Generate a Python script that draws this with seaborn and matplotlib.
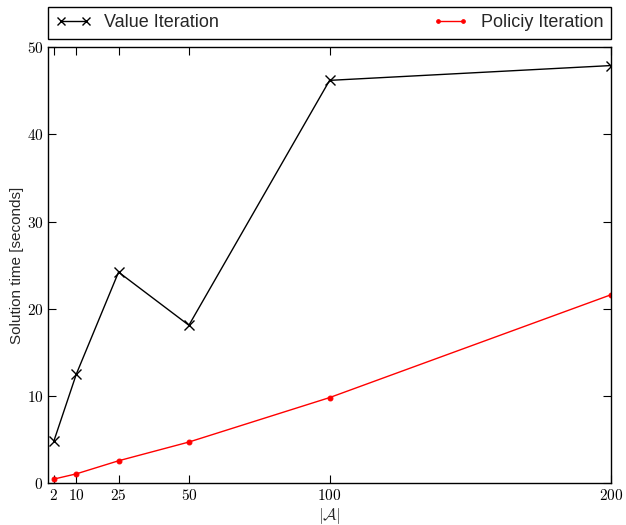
import numpy as np
import pandas as pd
import matplotlib
matplotlib.use("Agg")
import matplotlib.pyplot as plt
import seaborn as sns
from matplotlib.ticker import FuncFormatter

actions = [2, 10, 25, 50, 100, 200]
value_iteration = [4.8, 12.5, 24.2, 18.1, 46.2, 47.9]
policy_iteration = [0.45, 1.05, 2.55, 4.7, 9.8, 21.6]
y_ticks = [0, 10, 20, 30, 40, 50]

sns.set_theme(style="ticks")
plt.rcParams["font.family"] = ["Liberation Sans", "DejaVu Sans"]
plt.rcParams["mathtext.fontset"] = "cm"

fig = plt.figure(figsize=(6.26, 5.25), dpi=100)
ax = fig.add_axes([0.077, 0.08, 0.899, 0.83])

df_vi = pd.DataFrame({"x": actions, "y": value_iteration})
df_pi = pd.DataFrame({"x": actions, "y": policy_iteration})
sns.lineplot(data=df_vi, x="x", y="y", ax=ax, color="black", marker="x",
             markersize=7, markeredgewidth=1.0, markeredgecolor="black",
             linewidth=1.0, label="Value Iteration")
sns.lineplot(data=df_pi, x="x", y="y", ax=ax, color="red", marker="o",
             markersize=3.5, markeredgecolor="red", linewidth=1.0,
             label="Policiy Iteration")

ax.set_xlim(0, 200)
ax.set_ylim(0, 50)
ax.set_xticks(actions)
ax.set_yticks(y_ticks)
fmt = FuncFormatter(lambda v, p: r"$%d$" % v)
ax.xaxis.set_major_formatter(fmt)
ax.yaxis.set_major_formatter(fmt)
ax.tick_params(direction="in", top=True, right=True, length=6, width=0.8,
               labelsize=11, colors="black")
for s in ax.spines.values():
    s.set_visible(True)
    s.set_linewidth(1.0)
    s.set_color("black")
ax.set_xlabel(r"$|\mathcal{A}|$", fontsize=12, labelpad=2)
ax.set_ylabel("Solution time [seconds]", fontsize=11, labelpad=2)

leg = ax.legend(bbox_to_anchor=(0, 1.02, 1, 0.07), loc="lower left", ncol=2,
                mode="expand", borderaxespad=0, numpoints=2, fontsize=13,
                fancybox=False, framealpha=1, edgecolor="black",
                handlelength=2.0, handletextpad=0.7, markerscale=0.75)
leg.get_frame().set_linewidth(1.0)

fig.savefig("out.png", dpi=100)
